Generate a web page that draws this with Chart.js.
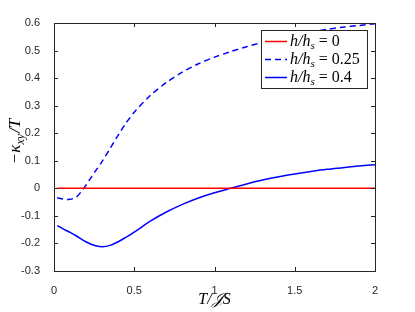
<!DOCTYPE html>
<html>
<head>
<meta charset="utf-8">
<script src="https://cdn.jsdelivr.net/npm/chart.js@4.4.0/dist/chart.umd.min.js"></script>
<style>
  html, body { margin: 0; padding: 0; background: #fff; }
  #wrap { width: 415px; height: 312px; }
</style>
</head>
<body>
<div id="wrap"><canvas id="kappaChart" width="415" height="312"></canvas></div>
<script>
// temperatura T/JS
const tVals = [0.02, 0.06, 0.1, 0.14, 0.18, 0.22, 0.26, 0.3, 0.35, 0.4, 0.45, 0.5, 0.6, 0.7, 0.8, 0.9, 1.0, 1.1, 1.2, 1.3, 1.4, 1.5, 1.6, 1.7, 1.8, 1.9, 2.0];
// -kappa_xy / T para cada campo
const kappaH0 = [0, 0, 0, 0, 0, 0, 0, 0, 0, 0, 0, 0, 0, 0, 0, 0, 0, 0, 0, 0, 0, 0, 0, 0, 0, 0, 0];
const kappaH025 = [-0.034, -0.039, -0.040, -0.031, -0.004, 0.030, 0.064, 0.098, 0.145, 0.193, 0.238, 0.276, 0.337, 0.384, 0.422, 0.452, 0.476, 0.496, 0.514, 0.530, 0.544, 0.556, 0.567, 0.577, 0.585, 0.591, 0.597];
const kappaH04 = [-0.135, -0.148, -0.160, -0.173, -0.188, -0.200, -0.208, -0.212, -0.207, -0.194, -0.177, -0.159, -0.119, -0.086, -0.058, -0.035, -0.016, 0.0, 0.016, 0.030, 0.042, 0.052, 0.061, 0.069, 0.075, 0.081, 0.086];
const xTicks = [0, 0.5, 1, 1.5, 2];
const yTicks = [-0.3, -0.2, -0.1, 0, 0.1, 0.2, 0.3, 0.4, 0.5, 0.6];
const seriesLabels = ['0', '0.25', '0.4'];

const toPoints = ys => tVals.map((t, i) => ({ x: t, y: ys[i] }));
const axisColor = '#262626';
const serif = '"Liberation Serif", "DejaVu Serif", serif';

// dibuja texto tipo LaTeX con subindices
function fontFor(p, size) {
    if (p.sub) return 'italic ' + Math.round(size * 0.7) + 'px ' + serif;
    return (p.upright ? '' : 'italic ') + size + 'px ' + serif;
}
function drawMath(ctx, parts, x, y, size) {
    let cx = x;
    parts.forEach(p => {
        ctx.font = fontFor(p, size);
        ctx.fillText(p.t, cx + (p.pre || 0), p.sub ? y + size * 0.3 : y);
        cx += (p.pre || 0) + ctx.measureText(p.t).width + (p.gap || 0);
    });
    return cx - x;
}
function measureMath(ctx, parts, size) {
    let w = 0;
    parts.forEach(p => {
        ctx.font = fontFor(p, size);
        w += (p.pre || 0) + ctx.measureText(p.t).width + (p.gap || 0);
    });
    return w;
}

const framePlugin = {
    id: 'frame',
    afterDraw(chart) {
        const ctx = chart.ctx;
        const a = chart.chartArea;
        const xs = chart.scales.x, ys = chart.scales.y;
        ctx.save();
        ctx.strokeStyle = axisColor;
        ctx.lineWidth = 1;
        ctx.strokeRect(Math.round(a.left) + 0.5, Math.round(a.top) + 0.5, Math.round(a.right - a.left), Math.round(a.bottom - a.top));
        ctx.beginPath();
        xTicks.forEach(v => {
            const px = Math.round(xs.getPixelForValue(v)) + 0.5;
            ctx.moveTo(px, a.bottom); ctx.lineTo(px, a.bottom - 4);
            ctx.moveTo(px, a.top); ctx.lineTo(px, a.top + 4);
        });
        yTicks.forEach(v => {
            const py = Math.round(ys.getPixelForValue(v)) + 0.5;
            ctx.moveTo(a.left, py); ctx.lineTo(a.left + 4, py);
            ctx.moveTo(a.right, py); ctx.lineTo(a.right - 4, py);
        });
        ctx.stroke();

        // leyenda
        const lx = 261.5, ly = 30.5, lw = 106, lh = 58;
        ctx.fillStyle = '#fff';
        ctx.fillRect(lx, ly, lw, lh);
        ctx.strokeRect(lx, ly, lw, lh);
        const colors = ['#ff0000', '#0000ff', '#0000ff'];
        const dashes = [[], [6, 4], []];
        const rowsY = [41.5, 59.5, 77.5];
        ctx.textBaseline = 'middle';
        seriesLabels.forEach((lab, i) => {
            ctx.strokeStyle = colors[i];
            ctx.lineWidth = 1.5;
            ctx.setLineDash(dashes[i]);
            ctx.beginPath();
            ctx.moveTo(265, rowsY[i]); ctx.lineTo(287, rowsY[i]);
            ctx.stroke();
            ctx.setLineDash([]);
            ctx.fillStyle = '#000';
            drawMath(ctx, [{ t: 'h/h' }, { t: 's', sub: true, gap: 4 }, { t: '=', upright: true, gap: 4 }, { t: lab, upright: true }], 290, rowsY[i], 16);
        });

        // titulos de ejes
        ctx.fillStyle = '#000';
        ctx.textBaseline = 'middle';
        const xParts = [{ t: 'T/' }, { t: '\u{1D4A5}' }, { t: 'S' }];
        const xw = measureMath(ctx, xParts, 16);
        drawMath(ctx, xParts, (a.left + a.right) / 2 - xw / 2, 300, 16);

        const yParts = [{ t: '\u2212', upright: true, gap: 1 }, { t: '\u03BA' }, { t: 'xy', sub: true, gap: 1 }, { t: '/T' }];
        const yw = measureMath(ctx, yParts, 17);
        ctx.translate(16, (a.top + a.bottom) / 2 - 6);
        ctx.rotate(-Math.PI / 2);
        drawMath(ctx, yParts, -yw / 2, 0, 17);
        ctx.restore();
    }
};

new Chart(document.getElementById('kappaChart'), {
    type: 'scatter',
    data: {
        datasets: [
            { label: 'h/hs = 0', data: toPoints(kappaH0), borderColor: '#ff0000', borderWidth: 1.5, showLine: true, pointRadius: 0 },
            { label: 'h/hs = 0.25', data: toPoints(kappaH025), borderColor: '#0000ff', borderWidth: 1.5, borderDash: [6, 4], showLine: true, pointRadius: 0, tension: 0.3 },
            { label: 'h/hs = 0.4', data: toPoints(kappaH04), borderColor: '#0000ff', borderWidth: 1.5, showLine: true, pointRadius: 0, tension: 0.3 }
        ]
    },
    options: {
        responsive: false,
        animation: false,
        layout: { padding: { top: 23, right: 40, left: 0, bottom: 0 } },
        plugins: { legend: { display: false }, tooltip: { enabled: false } },
        scales: {
            x: {
                type: 'linear', min: 0, max: 2,
                afterBuildTicks: s => { s.ticks = xTicks.map(v => ({ value: v })); },
                afterFit: s => { s.height = 41; },
                grid: { display: false }, border: { display: false },
                ticks: { color: axisColor, padding: 5, maxRotation: 0, font: { family: 'Liberation Sans', size: 11 }, callback: v => String(v) }
            },
            y: {
                type: 'linear', min: -0.3, max: 0.6,
                afterBuildTicks: s => { s.ticks = yTicks.map(v => ({ value: v })); },
                afterFit: s => { s.width = 54; },
                grid: { display: false }, border: { display: false },
                ticks: { color: axisColor, padding: 6, font: { family: 'Liberation Sans', size: 11 }, callback: v => String(parseFloat(v.toFixed(1))) }
            }
        }
    },
    plugins: [framePlugin]
});
</script>
</body>
</html>
